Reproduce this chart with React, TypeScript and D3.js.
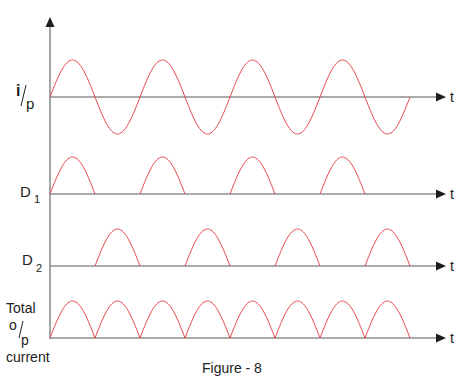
import React from "react";
import * as d3 from "d3";

// half-cycle indices where each waveform conducts
const inputHalfCycles = [0, 1, 2, 3, 4, 5, 6, 7];
const d1HalfCycles = [0, 2, 4, 6];
const d2HalfCycles = [1, 3, 5, 7];
const totalHalfCycles = [0, 1, 2, 3, 4, 5, 6, 7];
const halfCycleCount = 8;

const W = 464;
const H = 390;
const RED = "#e8474c";
const AXIS = "#8f8f8f";
const HEAD = "#1e1e1e";
const FONT = "Liberation Sans, Arial, sans-serif";

const x = d3.scaleLinear().domain([0, halfCycleCount]).range([50, 410]);
const amp = d3.scaleLinear().domain([0, 1]).range([0, 37]);

const panels = [
  { key: "in", base: 97, halves: inputHalfCycles, signed: true },
  { key: "d1", base: 194, halves: d1HalfCycles, signed: false },
  { key: "d2", base: 266, halves: d2HalfCycles, signed: false },
  { key: "tot", base: 338, halves: totalHalfCycles, signed: false },
];

function halfPath(i: number, base: number, signed: boolean) {
  const sign = signed && i % 2 === 1 ? -1 : 1;
  const pts: [number, number][] = d3.range(0, 1.0001, 1 / 40).map((f) => [
    x(i + f),
    base - sign * amp(Math.sin(Math.PI * f)),
  ]);
  return d3.line().curve(d3.curveLinear)(pts) || "";
}

function HArrow({ y }: { y: number }) {
  return (
    <g>
      <line x1={50} x2={437} y1={y} y2={y} stroke={AXIS} strokeWidth={1.6} />
      <polygon points={`436,${y - 4.5} 446,${y} 436,${y + 4.5}`} fill={HEAD} />
      <text x={450} y={y + 5} fontSize={14} fontFamily={FONT} fill="#222">t</text>
    </g>
  );
}

export default function App() {
  return (
    <svg
      width={W}
      height={H}
      style={{ position: "absolute", left: 0, top: 0, background: "#fff" }}
    >
      {/* vertical axis */}
      <line x1={50} x2={50} y1={26} y2={339} stroke={AXIS} strokeWidth={1.6} />
      <polygon points={`45.5,27 50,17 54.5,27`} fill={HEAD} />
      {panels.map((p) => (
        <g key={p.key}>
          <HArrow y={p.base} />
          {p.halves.map((i) => (
            <path
              key={i}
              d={halfPath(i, p.base, p.signed)}
              fill="none"
              stroke={RED}
              strokeWidth={1}
            />
          ))}
        </g>
      ))}
      {/* labels */}
      <g fontFamily={FONT} fill="#222">
        <text x={16} y={96} fontSize={16} fontWeight="bold">i</text>
        <line x1={26} y1={85} x2={21} y2={106} stroke="#222" strokeWidth={1} />
        <text x={26} y={109} fontSize={15}>p</text>

        <text x={20} y={197} fontSize={15}>D</text>
        <text x={34} y={203} fontSize={11}>1</text>

        <text x={22} y={265} fontSize={15}>D</text>
        <text x={36} y={272} fontSize={11}>2</text>

        <text x={6} y={313} fontSize={14}>Total</text>
        <text x={9} y={330} fontSize={14}>o</text>
        <line x1={23} y1={321} x2={19} y2={338} stroke="#222" strokeWidth={1} />
        <text x={21} y={345} fontSize={14}>p</text>
        <text x={6} y={362} fontSize={14}>current</text>

        <text x={202} y={373} fontSize={14}>Figure - 8</text>
      </g>
    </svg>
  );
}
